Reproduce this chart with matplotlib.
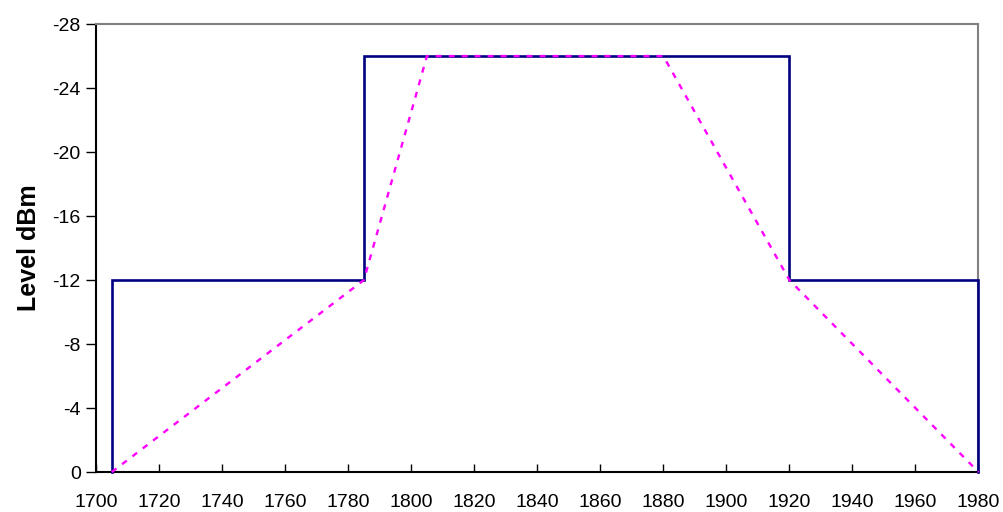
import matplotlib
matplotlib.use("Agg")
import matplotlib.pyplot as plt

plt.rcParams['font.family'] = ['Liberation Sans', 'DejaVu Sans']
plt.rcParams['axes.unicode_minus'] = False

# mask (solid) and spectrum (dashed)
mask_freq = [1705, 1705, 1785, 1785, 1920, 1920, 1980, 1980]
mask_level = [0, -12, -12, -26, -26, -12, -12, 0]
spec_freq = [1705, 1785, 1805, 1880, 1920, 1980]
spec_level = [0, -12, -26, -26, -12, 0]

fig = plt.figure(figsize=(10.04, 5.12), dpi=100)
ax = fig.add_axes([0.0956, 0.078, 0.879, 0.875])

ax.plot(mask_freq, mask_level, color='#000080', lw=1.9, solid_joinstyle='miter', clip_on=False, zorder=3)
ax.plot(spec_freq, spec_level, color='#FF00FF', lw=1.7, linestyle=(0, (2.5, 3)), clip_on=False, zorder=4)

ax.set_xlim(1700, 1980)
ax.set_ylim(0, -28)
ax.set_xticks(range(1700, 1981, 20))
ax.set_yticks(range(0, -29, -4))
ax.tick_params(axis='x', direction='in', length=6, labelsize=14, pad=16, width=1)
ax.tick_params(axis='y', direction='out', length=7, labelsize=14, pad=4, width=1)

ax.spines['left'].set_color('black')
ax.spines['bottom'].set_color('black')
ax.spines['top'].set_color('#808080')
ax.spines['right'].set_color('#808080')
for s in ax.spines.values():
    s.set_linewidth(1.5)

ax.set_ylabel('Level dBm', fontsize=18, fontweight='bold', labelpad=8)

fig.savefig('out.png', dpi=100)
